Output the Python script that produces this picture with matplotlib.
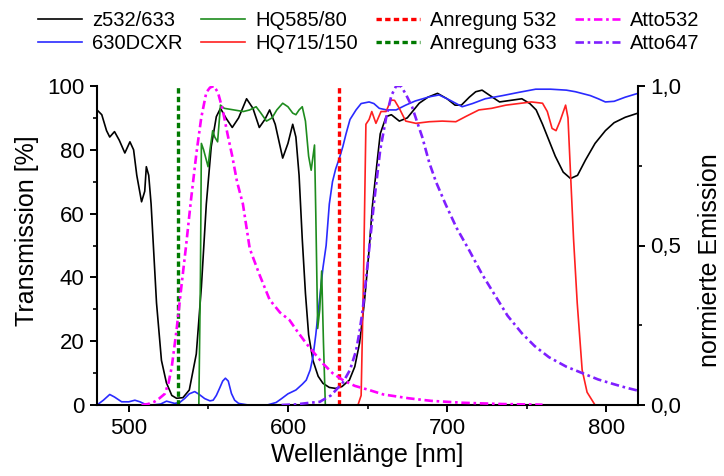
import matplotlib
matplotlib.use('Agg')
import matplotlib.pyplot as plt
from matplotlib.ticker import MultipleLocator

plt.rcParams['font.family'] = ['Liberation Sans', 'DejaVu Sans']

# --- filter transmission [%] ---
z532_nm = [480, 483, 486, 488, 491, 494, 497.5, 500.7, 503, 505, 508, 510, 511, 512.5, 514,
           517.4, 520.5, 523.6, 527, 530, 534, 538, 542.4, 545.6, 548.7, 551.8, 555, 557.6,
           561, 565, 569, 574, 578, 582, 585.5, 588.5, 592, 596.7, 600, 603, 605, 607, 609,
           611, 613, 615.7, 619, 622, 626, 630, 634, 638.6, 642, 645, 648, 651, 653, 656, 658,
           661.7, 665, 670, 675, 682.5, 688, 694, 700, 705, 709, 714, 718, 722, 727, 733, 740,
           747, 752, 756, 760, 764, 768, 773, 777.6, 782, 787, 793, 799.5, 805, 812, 820]
z532_T = [92.5, 91, 86, 84, 85.7, 83, 79, 82.5, 80, 72, 63.7, 67, 74.7, 72, 63,
          32, 14, 7, 3, 2.1, 2.3, 4.7, 16, 37, 63, 81, 90.4, 93,
          90, 87, 90, 96, 93, 87, 89.5, 92.5, 88, 77.4, 82, 88, 84, 72, 52,
          35, 22, 14, 9, 6.8, 5.5, 5.2, 5.8, 7.8, 12, 19.4, 32, 48.6, 62, 76, 85,
          90.4, 91, 89, 90, 94.6, 96.5, 97.7, 96, 94, 94, 96.5, 98.2, 98.7, 97, 95, 95.5,
          96, 94.5, 92.5, 88, 83, 78, 73, 71, 72, 76.8, 82, 86, 88.5, 90.2, 91.5]

dcxr_nm = [480, 484, 488, 491, 495.5, 500, 503.8, 507, 510, 515, 520, 523.7, 528.8, 532, 535,
           538, 541.4, 544, 547.7, 551, 553, 555, 557, 559, 560.7, 562.5, 564.5, 566.5, 569,
           575, 587, 592.6, 596, 600, 605, 609, 611.5, 614, 615.7, 617.5, 618.7, 620.5, 622,
           624, 626, 628, 630, 632.4, 634.5, 636.5, 639, 642.8, 646, 651, 654, 657.4, 662,
           668, 674, 680, 688.8, 695, 702, 709.5, 716, 724, 735, 745, 755.7, 765, 775, 780.7,
           790, 795, 799.5, 805, 812, 820]
dcxr_T = [0, 1.5, 3.3, 2.5, 1, 1, 1.5, 1, 0.3, 0, 0.3, 1.2, 0.5, 0.8, 2,
          3.5, 4.2, 3.4, 2, 1.3, 1.5, 3, 5.2, 7.5, 8.4, 7.5, 3.6, 1.5, 0.5,
          0, 0, 0.8, 2, 3.5, 4.7, 6.5, 7.8, 11, 15, 22, 27.7, 36, 43,
          50, 63, 70, 74, 77.5, 81, 85, 89.5, 92.5, 94.5, 95, 94.5, 93, 92.5,
          92.5, 94, 95.3, 96.6, 97.2, 95.5, 93.5, 94.5, 96, 97, 98, 99, 99, 98.7, 98.2,
          97, 96, 95, 95.2, 96.5, 97.7]

hq585_nm = [480, 544, 545, 545.6, 547, 549.8, 551, 552.7, 554, 555.8, 557.6, 560, 566, 572,
            576, 580, 583, 586.5, 590, 593, 596.7, 600, 603, 605, 607, 609, 611, 613, 614.6,
            616.7, 617.5, 618.7, 620, 621.2, 622.3, 623.5, 820]
hq585_T = [0, 0, 40, 82, 80, 74.7, 80, 86, 84, 82.5, 94, 93, 92.5, 92,
           92.5, 93.5, 91.5, 89, 90, 92.5, 94.6, 93.5, 91.5, 91, 92.5, 93.5, 89, 78, 73.6,
           81.5, 60, 24, 30, 42, 20, 0, 0]

hq715_nm = [480, 644, 646, 647.5, 649, 651, 652.7, 655.3, 658.5, 661.7, 664.7, 667, 670, 674,
            680.4, 688.8, 697, 705.5, 712, 720, 728, 737, 745, 753, 760, 763, 766, 768.5,
            771, 774.5, 776, 777.5, 779.5, 781.8, 784.9, 788, 793, 820]
hq715_T = [0, 0, 3, 40, 88, 89.5, 92, 88.3, 92, 92, 95.6, 95.5, 93, 89,
           88.3, 88.8, 89, 88.8, 90.5, 92.5, 93, 94, 94.5, 95, 94.6, 92, 86.7, 86,
           89, 94, 90, 73.6, 52, 32, 11, 4, 0, 0]

# --- excitation lines [nm] ---
anregung532_nm = 632
anregung633_nm = 531

# --- normalised dye emission ---
atto532_nm = [508, 512, 516, 519, 522.6, 525, 527, 530, 533, 536, 539, 542.5, 545.5, 548.7,
              551, 553.4, 556, 559, 562, 565, 568, 571.7, 576, 582, 588.5, 595, 601, 606,
              611.5, 617, 622, 628, 634.5, 642, 651, 660, 676, 690, 710, 735, 760]
atto532_em = [0, 0.003, 0.01, 0.02, 0.035, 0.07, 0.12, 0.235, 0.37, 0.5, 0.64, 0.79, 0.9, 0.98,
              0.995, 1.0, 0.98, 0.925, 0.85, 0.78, 0.7, 0.63, 0.49, 0.41, 0.33, 0.29, 0.266, 0.23,
              0.193, 0.16, 0.13, 0.1, 0.078, 0.06, 0.047, 0.033, 0.021, 0.013, 0.007, 0.003, 0.001]

atto647_nm = [596, 605, 612, 620, 627, 634.5, 639, 642.8, 645, 647, 649, 651, 654, 658, 661.7,
              665, 668, 671, 674, 678, 681, 684.4, 688.8, 693, 699, 706, 713.8, 722, 730.6,
              738, 747, 755, 764, 775, 785, 795, 805, 812, 820]
atto647_em = [0, 0.002, 0.006, 0.01, 0.03, 0.07, 0.11, 0.17, 0.23, 0.3, 0.39, 0.486, 0.63, 0.8, 0.9,
              0.97, 1.0, 1.0, 0.975, 0.935, 0.89, 0.84, 0.76, 0.7, 0.63, 0.555, 0.486, 0.41, 0.34,
              0.28, 0.225, 0.185, 0.15, 0.12, 0.1, 0.08, 0.065, 0.055, 0.045]

W, H = 724, 476
fig = plt.figure(figsize=(W / 100, H / 100), dpi=100)
ax = fig.add_axes([97 / W, 1 - 405 / H, (638 - 97) / W, (405 - 86) / H])
ax2 = ax.twinx()

l1, = ax.plot(z532_nm, z532_T, color='black', lw=1.2, label='z532/633')
l2, = ax.plot(dcxr_nm, dcxr_T, color='#2a2aff', lw=1.2, label='630DCXR')
l3, = ax.plot(hq585_nm, hq585_T, color='#1e8c1e', lw=1.2, label='HQ585/80')
l4, = ax.plot(hq715_nm, hq715_T, color='#ff2020', lw=1.2, label='HQ715/150')
l5, = ax.plot([anregung532_nm, anregung532_nm], [0, 100], color='#ff0000', lw=2.4,
              dashes=(1.6, 1.0), label='Anregung 532')
l6, = ax.plot([anregung633_nm, anregung633_nm], [0, 100], color='#007a00', lw=2.4,
              dashes=(1.6, 1.0), label='Anregung 633')
l7, = ax2.plot(atto532_nm, atto532_em, color='#ff00ff', lw=1.9,
               dashes=(3.2, 1.4, 1.0, 1.4), label='Atto532')
l8, = ax2.plot(atto647_nm, atto647_em, color='#7f1fff', lw=1.9,
               dashes=(3.2, 1.4, 1.0, 1.4), label='Atto647')

ax.set_xlim(480, 820)
ax.set_ylim(0, 100)
ax2.set_ylim(0, 1)

ax.xaxis.set_major_locator(MultipleLocator(100))
ax.xaxis.set_minor_locator(MultipleLocator(50))
ax.yaxis.set_major_locator(MultipleLocator(20))
ax.yaxis.set_minor_locator(MultipleLocator(10))
ax2.set_yticks([0, 0.5, 1.0])
ax2.set_yticklabels(['0,0', '0,5', '1,0'])
ax2.yaxis.set_minor_locator(MultipleLocator(0.25))

for a in (ax, ax2):
    a.spines['top'].set_visible(False)
    for s in a.spines.values():
        s.set_linewidth(1.5)
    a.tick_params(which='major', direction='out', length=5, width=1.4, labelsize=16, pad=4)
    a.tick_params(which='minor', direction='out', length=3, width=1.2)
ax.spines['right'].set_visible(False)
ax2.spines['left'].set_visible(False)
ax2.spines['bottom'].set_visible(False)

ax.set_xlabel('Wellenlänge [nm]', fontsize=18)
ax.set_ylabel('Transmission [%]', fontsize=18)
ax2.set_ylabel('normierte Emission', fontsize=18)
ax.xaxis.set_label_coords(0.5, -0.12)
ax.yaxis.set_label_coords(-0.108, 0.545)
ax2.yaxis.set_label_coords(1.11, 0.455)

handles = [l1, l2, l3, l4, l5, l6, l7, l8]
fig.legend(handles=handles, labels=[h.get_label() for h in handles], ncol=4,
           loc='upper left', bbox_to_anchor=(38 / W, 1 - 11 / H), frameon=False,
           fontsize=14.5, handlelength=2.2, handletextpad=0.5, columnspacing=0.9,
           labelspacing=0.2, borderpad=0, borderaxespad=0)

fig.savefig('out.png', dpi=100)
